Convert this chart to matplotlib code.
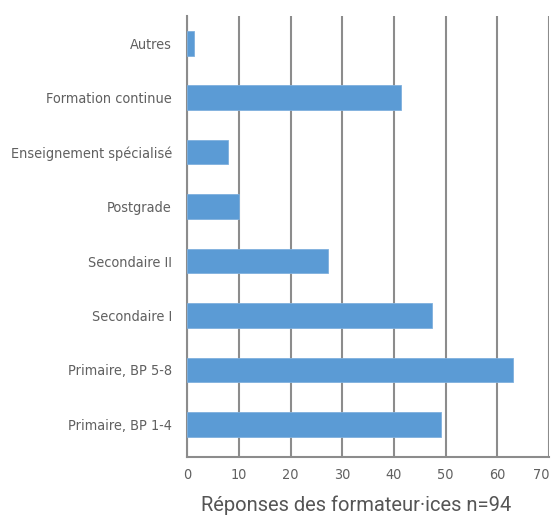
import matplotlib
matplotlib.use('Agg')
from matplotlib import pyplot as plt
import numpy as np

categories = ['Primaire, BP 1-4', 'Primaire, BP 5-8', 'Secondaire I', 'Secondaire II',
              'Postgrade', 'Enseignement spécialisé', 'Formation continue', 'Autres']
values = [49.2, 63, 47.4, 27.2, 10, 8, 41.3, 1.3]
xticks = [0, 10, 20, 30, 40, 50, 60, 70]
xlabel = 'Réponses des formateur·ices n=94'

bar_color = '#5b9bd5'
grid_color = '#8c8c8c'
text_color = '#606060'

fig = plt.figure(figsize=(5.52, 5.19), dpi=100)
ax = fig.add_axes([0.339, 0.1195, 0.6556, 0.8495])

y = np.arange(len(categories))
ax.barh(y, values, height=0.45, color=bar_color, edgecolor='#7fb0de', linewidth=0.6, zorder=3)

ax.set_xlim(0, 70)
ax.set_ylim(-0.6, len(categories) - 0.5)
ax.set_xticks(xticks)
ax.set_yticks(y)
ax.set_yticklabels(categories)
for xt in xticks:
    ax.axvline(xt, color=grid_color, linewidth=1.5, zorder=1)

for s in ['top', 'right']:
    ax.spines[s].set_visible(False)
ax.spines['left'].set_color(grid_color)
ax.spines['left'].set_linewidth(1.5)
ax.spines['bottom'].set_color(grid_color)
ax.spines['bottom'].set_linewidth(1.5)
ax.tick_params(length=0, pad=8, labelcolor=text_color)
ax.tick_params(axis='y', pad=11)
for lab in ax.get_yticklabels() + ax.get_xticklabels():
    lab.set_fontstretch('condensed')
    lab.set_fontsize(10.4)
ax.get_xticklabels()[-1].set_horizontalalignment('right')

ax.set_xlabel(xlabel, fontsize=14.5, color='#555555',
              family=['Roboto', 'DejaVu Sans'])
ax.xaxis.set_label_coords(0.467, -0.088)

fig.savefig('out.png', dpi=100)
